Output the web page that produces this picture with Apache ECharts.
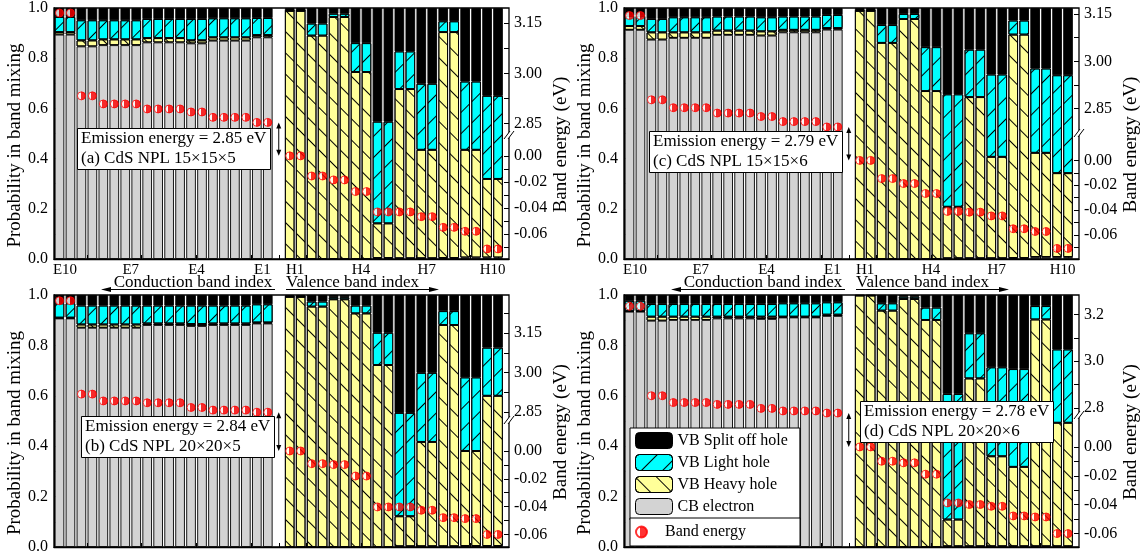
<!DOCTYPE html>
<html>
<head>
<meta charset="utf-8">
<script src="https://cdn.jsdelivr.net/npm/echarts@6.0.0/dist/echarts.min.js"></script>
<style>
html,body{margin:0;padding:0;background:#fff;}
#chart{width:1148px;height:558px;}
</style>
</head>
<body>
<div id="chart"></div>
<script>
// ================= DATA =================
// States, left to right. Every state is a degenerate pair -> two bars.
const cbStates = ['E10','E9','E8','E7','E6','E5','E4','E3','E2','E1'];
const vbStates = ['H1','H2','H3','H4','H5','H6','H7','H8','H9','H10'];
// bar slots on the x scale
const cbBarPos = [1,2,3,4,5,6,7,8,9,10,11,12,13,14,15,16,17,18,19,20];
const vbBarPos = [22,23,24,25,26,27,28,29,30,31,32,33,34,35,36,37,38,39,40,41];
// x tick labels
const cbTickLabels = ['E10','E7','E4','E1'];
const cbTickLabelPos = [1.5,7.5,13.5,19.5];
const vbTickLabels = ['H1','H4','H7','H10'];
const vbTickLabelPos = [22.5,28.5,34.5,40.5];
const xTickPos = [1,3.5,6,8.5,11,13.5,16,18.5,21,23.5,26,28.5,31,33.5,36,38.5,41];
const probTickLabels = [0,0.2,0.4,0.6,0.8,1.0];

// ---- panel (a) CdS NPL 15x15x5 ----
const aCbElectron = [0.894,0.847,0.852,0.852,0.863,0.863,0.859,0.870,0.870,0.883];
const aCbHeavy    = [0.010,0.024,0.023,0.023,0.017,0.017,0.012,0.013,0.013,0.009];
const aCbLight    = [0.060,0.080,0.076,0.076,0.076,0.076,0.085,0.076,0.076,0.068];
const aCbSplit    = [0.036,0.049,0.049,0.049,0.044,0.044,0.044,0.041,0.041,0.040];
const aCbEnergy   = [3.180,2.933,2.909,2.909,2.894,2.894,2.885,2.869,2.869,2.854];
const aVbElectron = [0,0,0,0,0.004,0.003,0.003,0.004,0.006,0.006];
const aVbHeavy    = [0.989,0.890,0.964,0.745,0.138,0.674,0.432,0.900,0.429,0.313];
const aVbLight    = [0,0.048,0.013,0.115,0.405,0.150,0.263,0.043,0.272,0.331];
const aVbSplit    = [0.011,0.062,0.023,0.140,0.453,0.173,0.302,0.053,0.293,0.350];
const aVbEnergy   = [0.000,-0.0154,-0.0184,-0.0273,-0.0429,-0.0429,-0.0465,-0.0547,-0.0577,-0.0712];
const aUpperTicks = [2.85,3.00,3.15];
const aLowerTicks = [0,-0.02,-0.04,-0.06];
const aUpperMinor = [2.85,2.925,3.00,3.075,3.15];
const aLowerMinor = [0,-0.01,-0.02,-0.03,-0.04,-0.05,-0.06,-0.07];
const aUpperRange = [2.4468,3.1949];
const aLowerRange = [-0.0789,0.1131];

// ---- panel (b) CdS NPL 20x20x5 ----
const bCbElectron = [0.907,0.870,0.870,0.870,0.881,0.881,0.877,0.881,0.881,0.887];
const bCbHeavy    = [0.003,0.013,0.013,0.013,0.006,0.006,0.008,0.006,0.006,0.004];
const bCbLight    = [0.057,0.075,0.075,0.075,0.071,0.071,0.073,0.071,0.071,0.072];
const bCbSplit    = [0.033,0.042,0.042,0.042,0.042,0.042,0.042,0.042,0.042,0.037];
const bCbEnergy   = [3.274,2.918,2.892,2.892,2.885,2.885,2.867,2.857,2.857,2.849];
const bVbElectron = [0,0,0,0,0,0.003,0.003,0.003,0.004,0.004];
const bVbHeavy    = [0.993,0.954,0.983,0.927,0.722,0.119,0.414,0.878,0.377,0.596];
const bVbLight    = [0,0.020,0.008,0.031,0.128,0.410,0.274,0.055,0.292,0.191];
const bVbSplit    = [0.007,0.026,0.009,0.042,0.150,0.468,0.309,0.064,0.327,0.209];
const bVbEnergy   = [0.000,-0.0091,-0.0098,-0.0180,-0.0402,-0.0402,-0.0426,-0.0479,-0.0486,-0.0600];
const bUpperTicks = [2.85,3.00,3.15];
const bLowerTicks = [0,-0.02,-0.04,-0.06];
const bUpperMinor = [2.85,2.925,3.00,3.075,3.15,3.225];
const bLowerMinor = [0,-0.01,-0.02,-0.03,-0.04,-0.05,-0.06];
const bUpperRange = [2.335,3.296];
const bLowerRange = [-0.069,0.1121];

// ---- panel (c) CdS NPL 15x15x6 ----
const cCbElectron = [0.913,0.874,0.881,0.881,0.893,0.893,0.890,0.903,0.903,0.914];
const cCbHeavy    = [0.015,0.029,0.022,0.022,0.017,0.017,0.017,0.010,0.010,0.006];
const cCbLight    = [0.040,0.053,0.060,0.060,0.056,0.056,0.056,0.053,0.053,0.052];
const cCbSplit    = [0.032,0.044,0.037,0.037,0.034,0.034,0.037,0.034,0.034,0.028];
const cCbEnergy   = [3.145,2.878,2.853,2.853,2.836,2.836,2.825,2.809,2.809,2.792];
const cVbElectron = [0,0,0,0,0.003,0.003,0.003,0.004,0.008,0.008];
const cVbHeavy    = [0.989,0.861,0.956,0.669,0.205,0.642,0.404,0.890,0.415,0.334];
const cVbLight    = [0,0.071,0.020,0.175,0.448,0.189,0.328,0.056,0.336,0.390];
const cVbSplit    = [0.011,0.068,0.024,0.156,0.344,0.166,0.265,0.050,0.241,0.268];
const cVbEnergy   = [0.000,-0.0146,-0.0186,-0.0266,-0.0410,-0.0416,-0.0446,-0.0549,-0.0571,-0.0707];
const cUpperTicks = [2.85,3.00,3.15];
const cLowerTicks = [0,-0.02,-0.04,-0.06,-0.08];
const cUpperMinor = [2.85,2.925,3.00,3.075,3.15];
const cLowerMinor = [0,-0.01,-0.02,-0.03,-0.04,-0.05,-0.06,-0.07,-0.08];
const cUpperRange = [2.3735,3.169];
const cLowerRange = [-0.0792,0.1224];

// ---- panel (d) CdS NPL 20x20x6 ----
const dCbElectron = [0.934,0.898,0.901,0.901,0.907,0.907,0.905,0.911,0.911,0.917];
const dCbHeavy    = [0.002,0.016,0.013,0.013,0.007,0.007,0.009,0.003,0.003,0.005];
const dCbLight    = [0.041,0.050,0.050,0.050,0.050,0.050,0.050,0.053,0.053,0.049];
const dCbSplit    = [0.023,0.036,0.036,0.036,0.036,0.036,0.036,0.033,0.033,0.029];
const dCbEnergy   = [3.235,2.852,2.823,2.823,2.815,2.815,2.798,2.787,2.787,2.778];
const dVbElectron = [0,0,0,0,0.003,0.003,0.003,0.003,0.003,0.003];
const dVbHeavy    = [0.998,0.938,0.984,0.901,0.106,0.666,0.357,0.315,0.900,0.490];
const dVbLight    = [0,0.029,0.009,0.049,0.498,0.179,0.353,0.388,0.053,0.291];
const dVbSplit    = [0.002,0.033,0.007,0.050,0.393,0.152,0.287,0.294,0.044,0.216];
const dVbEnergy   = [0.000,-0.0099,-0.0110,-0.0189,-0.0388,-0.0399,-0.0411,-0.0478,-0.0485,-0.0600];
const dUpperTicks = [2.8,3.0,3.2];
const dLowerTicks = [0,-0.02,-0.04,-0.06];
const dUpperMinor = [2.8,2.9,3.0,3.1,3.2];
const dLowerMinor = [0,-0.01,-0.02,-0.03,-0.04,-0.05,-0.06];
const dUpperRange = [2.205,3.283];
const dLowerRange = [-0.0693,0.1052];

const seriesNames = ['CB electron','VB Heavy hole','VB Light hole','VB Split off hole'];

// ================= LAYOUT / STYLE =================
const FONT = '"Liberation Serif", "Times New Roman", serif';
const panels = [
  {tag:'a', grid:{left:54,top:8,width:455,height:251}, showX:true,
   cb:[aCbElectron,aCbHeavy,aCbLight,aCbSplit], cbE:aCbEnergy,
   vb:[aVbElectron,aVbHeavy,aVbLight,aVbSplit], vbE:aVbEnergy,
   up:aUpperRange, lo:aLowerRange, upT:aUpperTicks, loT:aLowerTicks, upM:aUpperMinor, loM:aLowerMinor, dec:2,
   text:'Emission energy = 2.85 eV\n(a) CdS NPL 15×15×5', box:{left:77,top:128}, breakY:135},
  {tag:'c', grid:{left:624,top:7,width:455,height:252}, showX:true,
   cb:[cCbElectron,cCbHeavy,cCbLight,cCbSplit], cbE:cCbEnergy,
   vb:[cVbElectron,cVbHeavy,cVbLight,cVbSplit], vbE:cVbEnergy,
   up:cUpperRange, lo:cLowerRange, upT:cUpperTicks, loT:cLowerTicks, upM:cUpperMinor, loM:cLowerMinor, dec:2,
   text:'Emission energy = 2.79 eV\n(c) CdS NPL 15×15×6', box:{left:649,top:131}, breakY:133},
  {tag:'b', grid:{left:54,top:295,width:455,height:252}, showX:false,
   cb:[bCbElectron,bCbHeavy,bCbLight,bCbSplit], cbE:bCbEnergy,
   vb:[bVbElectron,bVbHeavy,bVbLight,bVbSplit], vbE:bVbEnergy,
   up:bUpperRange, lo:bLowerRange, upT:bUpperTicks, loT:bLowerTicks, upM:bUpperMinor, loM:bLowerMinor, dec:2,
   text:'Emission energy = 2.84 eV\n(b) CdS NPL 20×20×5', box:{left:81,top:416}, breakY:420},
  {tag:'d', grid:{left:624,top:295,width:455,height:252}, showX:false,
   cb:[dCbElectron,dCbHeavy,dCbLight,dCbSplit], cbE:dCbEnergy,
   vb:[dVbElectron,dVbHeavy,dVbLight,dVbSplit], vbE:dVbEnergy,
   up:dUpperRange, lo:dLowerRange, upT:dUpperTicks, loT:dLowerTicks, upM:dUpperMinor, loM:dLowerMinor, dec:1,
   text:'Emission energy = 2.78 eV\n(d) CdS NPL 20×20×6', box:{left:860,top:401}, breakY:415}
];

function twice(arr){ const o=[]; arr.forEach(v=>{o.push(v,v);}); return o; }

const barColors = ['#d3d3d3','#ffff99','#00ffff','#000000'];
const decals = [
  null,
  {symbol:'rect', symbolSize:1, color:'#000', dashArrayX:[1,0], dashArrayY:[1,14], rotation:Math.PI/4},
  {symbol:'rect', symbolSize:1, color:'#000', dashArrayX:[1,0], dashArrayY:[1,14], rotation:-Math.PI/4},
  null
];
const dotColor = new echarts.graphic.LinearGradient(0,0,1,0,[
  {offset:0,color:'#ffffff'},{offset:0.4,color:'#ffffff'},{offset:0.4,color:'#ff0000'},{offset:1,color:'#ff0000'}]);

const xLabelPos = cbTickLabelPos.concat(vbTickLabelPos);
const xLabelTxt = cbTickLabels.concat(vbTickLabels);

const grids=[], xAxes=[], yAxes=[], series=[], titles=[];
const tickFont = {fontFamily:FONT, fontSize:16, color:'#000'};

panels.forEach((P,p)=>{
  grids.push(Object.assign({show:true, borderColor:'#000', borderWidth:1.3, backgroundColor:'transparent', containLabel:false}, P.grid));
  xAxes.push({
    type:'value', gridIndex:p, min:0.5, max:42,
    axisLine:{show:true, onZero:false, lineStyle:{color:'#000', width:1.3}},
    splitLine:{show:false},
    axisTick:{show:true, inside:true, length:4, customValues:xTickPos, lineStyle:{color:'#000'}},
    axisLabel: P.showX ? {show:true, customValues:xLabelPos, margin:4,
        formatter:(v)=>{const i=xLabelPos.indexOf(v); return i>=0?xLabelTxt[i]:'';},
        fontFamily:FONT, fontSize:15, color:'#000'} : {show:false}
  });
  yAxes.push({
    type:'value', gridIndex:p, position:'left', min:0, max:1, interval:0.2,
    axisLine:{show:true, lineStyle:{color:'#000', width:1.3}},
    splitLine:{show:false},
    axisTick:{show:true, inside:true, length:4, lineStyle:{color:'#000'}},
    minorTick:{show:true, splitNumber:2, length:2, lineStyle:{color:'#000'}},
    axisLabel:Object.assign({formatter:(v)=>v.toFixed(1), margin:6}, tickFont),
    name:'Probability in band mixing', nameLocation:'middle', nameGap:29, nameRotate:90,
    nameTextStyle:{fontFamily:FONT, fontSize:19, color:'#000', padding:[0,24,0,0]}
  });
  yAxes.push({
    type:'value', gridIndex:p, position:'right', min:P.up[0], max:P.up[1],
    axisLine:{show:false}, splitLine:{show:false},
    axisTick:{show:true, inside:true, length:5, customValues:P.upM, lineStyle:{color:'#000'}},
    axisLabel:Object.assign({customValues:P.upT, formatter:(v)=>v.toFixed(P.dec), margin:5}, tickFont)
  });
  yAxes.push({
    type:'value', gridIndex:p, position:'right', min:P.lo[0], max:P.lo[1],
    axisLine:{show:false}, splitLine:{show:false},
    axisTick:{show:true, inside:true, length:5, customValues:P.loM, lineStyle:{color:'#000'}},
    axisLabel:Object.assign({customValues:P.loT, formatter:(v)=>(Math.abs(v)<1e-9?0:v).toFixed(2), margin:5}, tickFont),
    name:'Band energy (eV)', nameLocation:'middle', nameGap:36, nameRotate:90,
    nameTextStyle:{fontFamily:FONT, fontSize:19, color:'#000', padding:[0,22,0,0]}
  });
  const pos = cbBarPos.concat(vbBarPos);
  for(let k=0;k<4;k++){
    const vals = twice(P.cb[k]).concat(twice(P.vb[k]));
    const st = {color:barColors[k], borderColor:'#000', borderWidth:0.9};
    if(decals[k]) st.decal = decals[k];
    series.push({
      type:'bar', name:seriesNames[k], xAxisIndex:p, yAxisIndex:3*p, stack:'s'+p,
      barWidth:9.6, encode:{x:1, y:0},
      data: vals.map((v,i)=>[v, pos[i]]),
      itemStyle:st, emphasis:{disabled:true}, silent:true
    });
  }
  const dotStyle = {color:dotColor, borderColor:'#ff0000', borderWidth:1};
  series.push({type:'scatter', name:'Band energy', xAxisIndex:p, yAxisIndex:3*p+1,
    data: twice(P.cbE).map((e,i)=>[cbBarPos[i], e]), symbolSize:8, itemStyle:dotStyle, silent:true});
  series.push({type:'scatter', name:'Band energy', xAxisIndex:p, yAxisIndex:3*p+2,
    data: twice(P.vbE).map((e,i)=>[vbBarPos[i], e]), symbolSize:8, itemStyle:dotStyle, silent:true});
  titles.push({text:P.text, left:P.box.left, top:P.box.top, borderColor:'#000', borderWidth:1,
    backgroundColor:'#fff', padding:[1,4,1,4], z:10,
    textStyle:{fontFamily:FONT, fontSize:17, fontWeight:'normal', color:'#000', lineHeight:20}});
});

const option = {
  animation:false,
  textStyle:{fontFamily:FONT},
  title:titles,
  grid:grids, xAxis:xAxes, yAxis:yAxes, series:series,
  legend:[
    {data:['VB Split off hole','VB Light hole','VB Heavy hole','CB electron'], orient:'vertical',
     left:630, top:428, itemWidth:37, itemHeight:16, itemGap:5, padding:[4,12,5,5],
     borderColor:'#000', borderWidth:1, backgroundColor:'#fff', selectedMode:false, z:10,
     itemStyle:{borderColor:'#000', borderWidth:1},
     textStyle:{fontFamily:FONT, fontSize:16, color:'#000'}},
    {data:[{name:'Band energy', icon:'circle'}], orient:'vertical',
     left:630, top:518, itemWidth:37, itemHeight:11, padding:[6,54,6,5],
     borderColor:'#000', borderWidth:1, backgroundColor:'#fff', selectedMode:false, z:10,
     textStyle:{fontFamily:FONT, fontSize:16, color:'#000'}}
  ]
};

const chart = echarts.init(document.getElementById('chart'), null, {renderer:'canvas', width:1148, height:558});
chart.setOption(option);

// ---------- annotations computed through the axes ----------
const g = [];
[0,570].forEach(ox=>{
  g.push({type:'text', x:193+ox, y:283, style:{text:'Conduction band index', font:'17px '+FONT, fill:'#000', align:'center', verticalAlign:'middle'}});
  g.push({type:'line', shape:{x1:103+ox,y1:289.5,x2:275+ox,y2:289.5}, style:{stroke:'#000', lineWidth:1}});
  g.push({type:'polygon', shape:{points:[[101+ox,289.5],[111+ox,287],[111+ox,292]]}, style:{fill:'#000'}});
  g.push({type:'text', x:286+ox, y:283, style:{text:'Valence band index', font:'17px '+FONT, fill:'#000', align:'left', verticalAlign:'middle'}});
  g.push({type:'line', shape:{x1:286+ox,y1:289.5,x2:437+ox,y2:289.5}, style:{stroke:'#000', lineWidth:1}});
  g.push({type:'polygon', shape:{points:[[439+ox,289.5],[429+ox,287],[429+ox,292]]}, style:{fill:'#000'}});
});
panels.forEach((P,p)=>{
  const x = chart.convertToPixel({xAxisIndex:p}, 21);
  const y1 = chart.convertToPixel({yAxisIndex:3*p+1}, Math.min.apply(null,P.cbE));
  const y2 = chart.convertToPixel({yAxisIndex:3*p+2}, Math.max.apply(null,P.vbE));
  g.push({type:'line', z:20, shape:{x1:x,y1:y1+4,x2:x,y2:y2-4}, style:{stroke:'#000', lineWidth:1}});
  g.push({type:'polygon', z:20, shape:{points:[[x,y1],[x-2.5,y1+6],[x+2.5,y1+6]]}, style:{fill:'#000'}});
  g.push({type:'polygon', z:20, shape:{points:[[x,y2],[x-2.5,y2-6],[x+2.5,y2-6]]}, style:{fill:'#000'}});
  const R = chart.convertToPixel({xAxisIndex:p}, 42);
  const yb = P.breakY;
  g.push({type:'polygon', z:20, shape:{points:[[R-5,yb+4],[R+1,yb-4],[R+5,yb-4],[R-1,yb+4]]}, style:{fill:'#fff'}});
  g.push({type:'line', z:21, shape:{x1:R-5,y1:yb+4,x2:R+1,y2:yb-4}, style:{stroke:'#000', lineWidth:1}});
  g.push({type:'line', z:21, shape:{x1:R-1,y1:yb+4,x2:R+5,y2:yb-4}, style:{stroke:'#000', lineWidth:1}});
});
chart.setOption({graphic:{elements:g}});
</script>
</body>
</html>
